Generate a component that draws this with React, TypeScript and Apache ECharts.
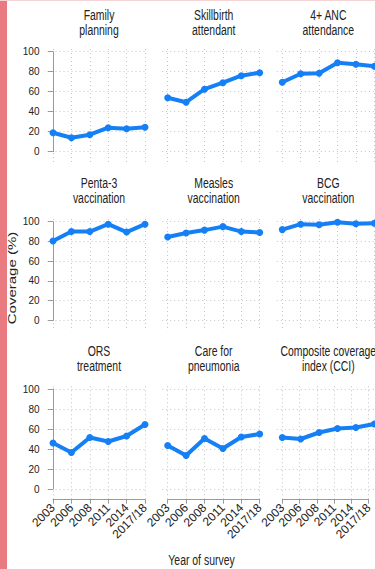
import React, { useEffect, useRef } from "react";
import * as echarts from "echarts";

// Survey rounds shown on every panel's x axis
const years = ["2003", "2006", "2008", "2011", "2014", "2017/18"];

// Coverage (%) per indicator, one value per survey round
const familyPlanning = [19, 14, 17, 24, 23, 24.5];
const skillbirthAttendant = [54, 49.5, 62.5, 69, 76, 79];
const ancAttendance = [69.5, 78, 78.5, 89, 87.5, 85.5];
const penta3 = [80.5, 90, 90, 97.5, 89.5, 97.5];
const measles = [84.5, 88.5, 91.5, 95, 90, 89];
const bcg = [92, 97.5, 97, 99.5, 98, 98.5];
const orsTreatment = [46, 36.5, 51.5, 47.5, 53, 64.5];
const pneumoniaCare = [43.5, 33.5, 50.5, 40.5, 52, 55];
const cci = [51.5, 50, 56.5, 60.5, 61.5, 65];

const panelTitles = [
  "Family\nplanning",
  "Skillbirth\nattendant",
  "4+ ANC\nattendance",
  "Penta-3\nvaccination",
  "Measles\nvaccination",
  "BCG\nvaccination",
  "ORS\ntreatment",
  "Care for\npneumonia",
  "Composite coverage\nindex (CCI)",
];
const panelSeries = [
  familyPlanning,
  skillbirthAttendant,
  ancAttendance,
  penta3,
  measles,
  bcg,
  orsTreatment,
  pneumoniaCare,
  cci,
];

// Layout of the 3 x 3 panel grid (pixels)
const COL_X = [53, 167.7, 282.3];
const SPAN = 92;
const PAD_LEFT = 5.5;
const ROW_TOP = [51.7, 221.7, 389];
const ROW_BOTTOM = [151.7, 320.5, 489];
const ROW_TITLE = [15.5, 183.3, 351.7];

// Text is set in a tall, narrow Helvetica-like face
const FONT = '"Liberation Sans", Arial, sans-serif';
const NARROW = 0.72;
const LINE_BLUE = "#1580f5";
const AXIS_GREY = "#9a9a9a";
const GRID_GREY = "#c4c4c4";
const TEXT = "#222";

function buildOption() {
  const grid: any[] = [];
  const xAxis: any[] = [];
  const yAxis: any[] = [];
  const series: any[] = [];
  const graphic: any[] = [
    { type: "rect", shape: { x: 0, y: 0, width: 7, height: 569 }, style: { fill: "#e97a80" }, silent: true },
    { type: "rect", shape: { x: 0, y: 0, width: 375, height: 1 }, style: { fill: "#f6d3d5" }, silent: true },
  ];

  panelSeries.forEach((values, k) => {
    const col = k % 3;
    const row = Math.floor(k / 3);
    const x0 = COL_X[col];
    const top = ROW_TOP[row];
    const bottom = ROW_BOTTOM[row];
    const bgIndex = grid.length;

    // background panel: vertical dotted guides and the year axis
    grid.push({ left: x0, top: top - 2.7, width: SPAN, height: bottom + 10.7 - (top - 2.7) });
    xAxis.push({
      type: "category",
      gridIndex: bgIndex,
      data: years,
      boundaryGap: false,
      axisLine: { show: row === 2, lineStyle: { color: AXIS_GREY, width: 1 } },
      axisTick: { show: row === 2, length: 4, lineStyle: { color: AXIS_GREY } },
      axisLabel: {
        show: row === 2,
        rotate: 45,
        interval: 0,
        margin: 6,
        fontSize: 12,
        fontFamily: FONT,
        color: TEXT,
      },
      splitLine: { show: true, lineStyle: { color: GRID_GREY, type: [1, 3], width: 1 } },
    });
    yAxis.push({ type: "value", gridIndex: bgIndex, show: false, min: 0, max: 1 });

    // data panel: coverage scale and the series line
    const dataIndex = grid.length;
    grid.push({ left: x0 - PAD_LEFT, top, width: SPAN + PAD_LEFT, height: bottom - top });
    xAxis.push({ type: "value", gridIndex: dataIndex, min: -PAD_LEFT / (SPAN / 5), max: 5, show: false });
    yAxis.push({
      type: "value",
      gridIndex: dataIndex,
      min: 0,
      max: 100,
      interval: 20,
      axisLine: { show: col === 0, lineStyle: { color: AXIS_GREY, width: 1 } },
      axisTick: { show: col === 0, length: 5, lineStyle: { color: AXIS_GREY } },
      axisLabel: { show: col === 0, margin: 8, fontSize: 10, fontFamily: FONT, color: TEXT },
      splitLine: { show: true, lineStyle: { color: GRID_GREY, type: [1, 3], width: 1 } },
    });
    series.push({
      type: "line",
      xAxisIndex: dataIndex,
      yAxisIndex: dataIndex,
      data: values.map((v, i) => [i, v]),
      symbol: "circle",
      symbolSize: 7,
      clip: false,
      lineStyle: { color: LINE_BLUE, width: 4 },
      itemStyle: { color: LINE_BLUE },
      z: 5,
    });

    graphic.push({
      type: "text",
      x: x0 + SPAN / 2,
      y: ROW_TITLE[row] - 7.5,
      scaleX: NARROW,
      style: {
        text: panelTitles[k],
        align: "center",
        verticalAlign: "top",
        fontSize: 14.5,
        lineHeight: 15,
        fontFamily: FONT,
        fill: TEXT,
      },
      silent: true,
    });
  });

  graphic.push(
    {
      type: "text",
      x: 201.5,
      y: 560.5,
      scaleX: NARROW,
      style: {
        text: "Year of survey",
        align: "center",
        verticalAlign: "middle",
        fontSize: 14.5,
        fontFamily: FONT,
        fill: TEXT,
      },
      silent: true,
    },
    {
      type: "text",
      x: 12,
      y: 278,
      rotation: Math.PI / 2,
      scaleY: NARROW,
      style: {
        text: "Coverage (%)",
        align: "center",
        verticalAlign: "middle",
        fontSize: 15,
        fontFamily: FONT,
        fill: TEXT,
      },
      silent: true,
    }
  );

  return {
    animation: false,
    backgroundColor: "#ffffff",
    grid,
    xAxis,
    yAxis,
    series,
    graphic,
  };
}

export default function App() {
  const ref = useRef<HTMLDivElement>(null);

  useEffect(() => {
    document.body.style.margin = "0";
    if (!ref.current) return;
    const chart = echarts.init(ref.current, undefined, { renderer: "svg" });
    chart.setOption(buildOption());
    return () => chart.dispose();
  }, []);

  return <div ref={ref} style={{ width: 375, height: 569, position: "absolute", left: 0, top: 0 }} />;
}
